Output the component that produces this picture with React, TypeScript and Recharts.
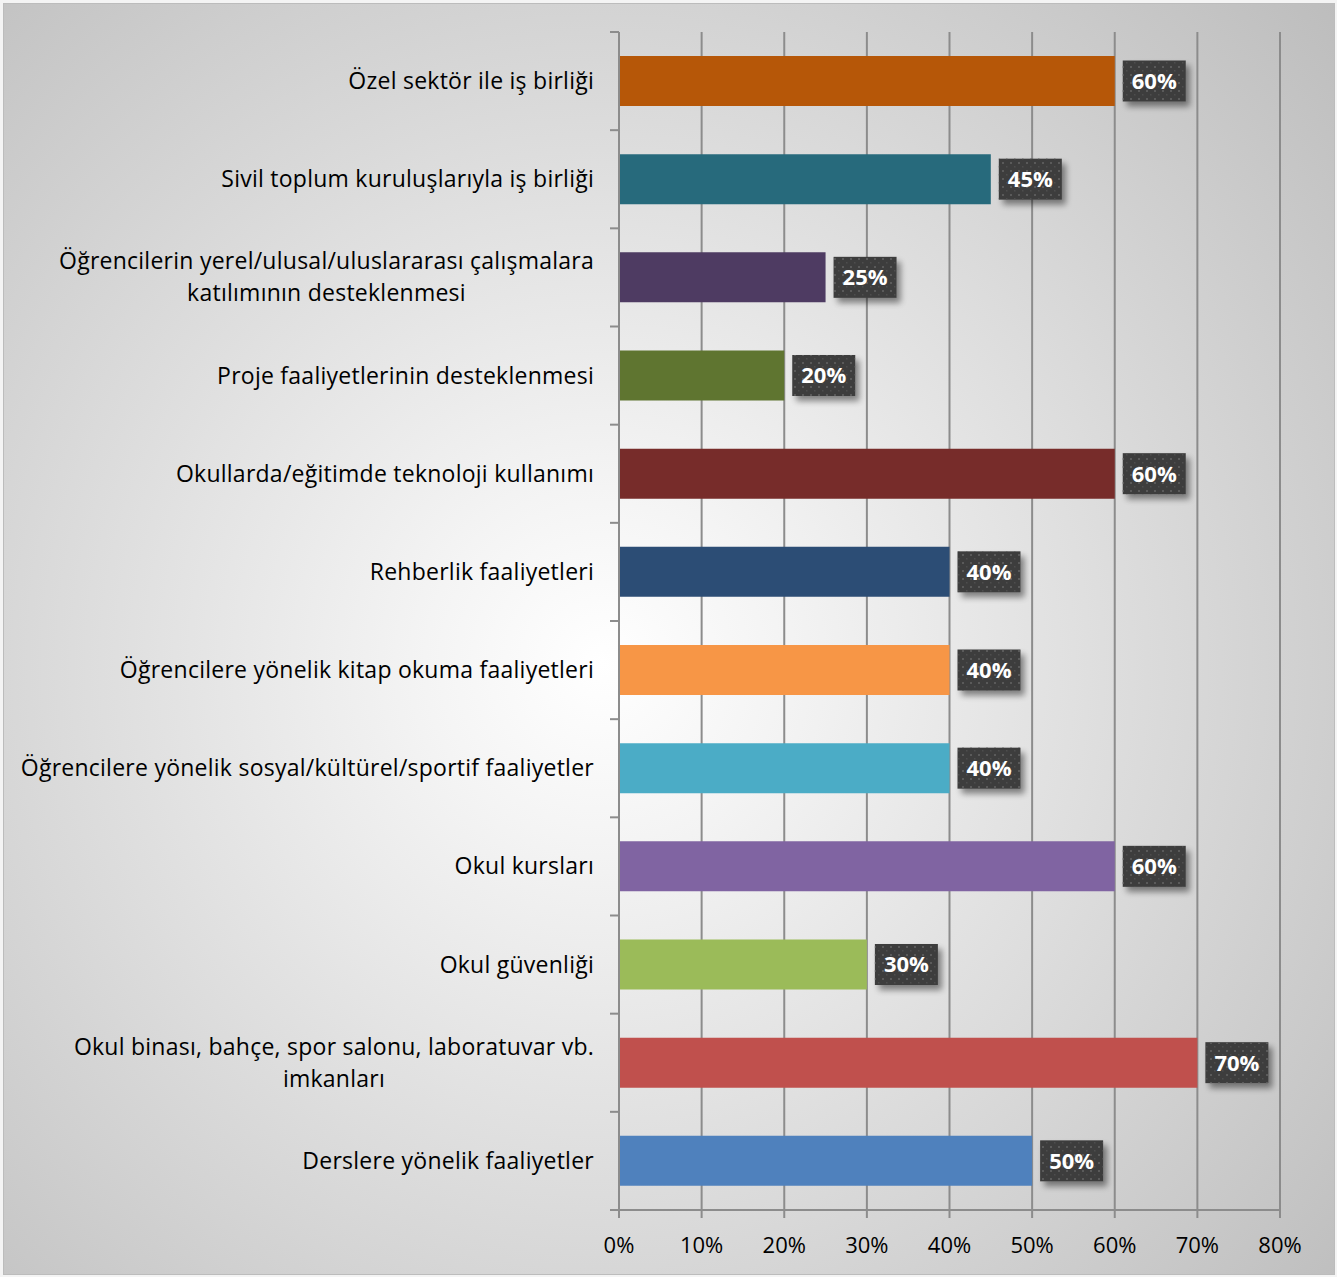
import React from "react";
import { BarChart, Bar, XAxis, YAxis, CartesianGrid, Cell, LabelList, Customized } from "recharts";

const categories = [
  "Özel sektör ile iş birliği",
  "Sivil toplum kuruluşlarıyla iş birliği",
  "Öğrencilerin yerel/ulusal/uluslararası çalışmalara katılımının desteklenmesi",
  "Proje faaliyetlerinin desteklenmesi",
  "Okullarda/eğitimde teknoloji kullanımı",
  "Rehberlik faaliyetleri",
  "Öğrencilere yönelik kitap okuma faaliyetleri",
  "Öğrencilere yönelik sosyal/kültürel/sportif faaliyetler",
  "Okul kursları",
  "Okul güvenliği",
  "Okul binası, bahçe, spor salonu, laboratuvar vb. imkanları",
  "Derslere yönelik faaliyetler",
];

const labelLines: Record<string, string[]> = {
  "Öğrencilerin yerel/ulusal/uluslararası çalışmalara katılımının desteklenmesi": [
    "Öğrencilerin yerel/ulusal/uluslararası çalışmalara",
    "katılımının desteklenmesi",
  ],
  "Okul binası, bahçe, spor salonu, laboratuvar vb. imkanları": [
    "Okul binası, bahçe, spor salonu, laboratuvar vb.",
    "imkanları",
  ],
};

const values = [60, 45, 25, 20, 60, 40, 40, 40, 60, 30, 70, 50];

const colors = [
  "#B65708", "#276A7C", "#4E3B62", "#5F7530", "#772C2A", "#2C4D75",
  "#F79646", "#4BACC6", "#8064A2", "#9BBB59", "#C0504D", "#4F81BD",
];

const xTicks = [0, 10, 20, 30, 40, 50, 60, 70, 80];

const data = categories.map((name, i) => ({ name, value: values[i] }));

const W = 1337;
const H = 1277;
const X_H = 40;
const M = { top: 32, right: 57, bottom: 67 - X_H, left: 0 };
const Y_W = 619;
const FONT = "'Open Sans', sans-serif";
const FS = 22;
const YFS = 23;
const LS = 0.25;
const BAND = (H - M.top - 67) / categories.length;

let ctx: CanvasRenderingContext2D | null = null;
function measure(t: string) {
  if (!ctx) {
    const c = document.createElement("canvas");
    ctx = c.getContext("2d");
  }
  if (!ctx) return t.length * 10.5;
  ctx.font = `${YFS}px 'Open Sans'`;
  return ctx.measureText(t).width + t.length * LS;
}

const YTick = (props: any) => {
  const { y, payload, index } = props;
  const lines = labelLines[payload.value] || [payload.value];
  const right = Y_W - 25;
  const tickX = Y_W;
  const els: any[] = [];
  els.push(
    <line key="t" x1={tickX - 9} x2={tickX} y1={y - BAND / 2} y2={y - BAND / 2} stroke="#8c8c8c" strokeWidth={2} />
  );
  if (index === categories.length - 1) {
    els.push(
      <line key="t2" x1={tickX - 9} x2={tickX} y1={y + BAND / 2} y2={y + BAND / 2} stroke="#8c8c8c" strokeWidth={2} />
    );
  }
  if (lines.length === 1) {
    els.push(
      <text key="l" x={right} y={y} dy="0.35em" textAnchor="end" fontFamily={FONT} fontSize={YFS} letterSpacing={LS} fill="#000">
        {lines[0]}
      </text>
    );
  } else {
    const w = Math.max(...lines.map(measure));
    const cx = right - w / 2;
    const lh = 32;
    lines.forEach((l, i) => {
      els.push(
        <text key={"l" + i} x={cx} y={y + (i - (lines.length - 1) / 2) * lh} dy="0.35em" textAnchor="middle" fontFamily={FONT} fontSize={YFS} letterSpacing={LS} fill="#000">
          {l}
        </text>
      );
    });
  }
  return <g>{els}</g>;
};

const ValueLabel = (props: any) => {
  const { x, y, width, height, value } = props;
  const bx = x + width + 8;
  const bw = 63;
  const bh = 41;
  const by = y + height / 2 - bh / 2;
  return (
    <g>
      <rect x={bx} y={by} width={bw} height={bh} fill="#3d3d3d" filter="url(#lblShadow)" />
      <rect x={bx} y={by} width={bw} height={bh} fill="url(#dots)" />
      <text x={bx + bw / 2} y={by + bh / 2} dy="0.36em" textAnchor="middle" fontFamily={FONT} fontWeight="bold" fontSize={22} fill="#ffffff">
        {`${value}%`}
      </text>
    </g>
  );
};

const Defs = () => (
  <defs>
    <pattern id="dots" x="0" y="0" width="8" height="8" patternUnits="userSpaceOnUse">
      <rect x="2" y="2" width="2" height="2" fill="#5a5a5a" />
      <rect x="6" y="6" width="1.5" height="1.5" fill="#4e4e4e" />
    </pattern>
    <filter id="lblShadow" x="-30%" y="-30%" width="170%" height="180%">
      <feGaussianBlur in="SourceAlpha" stdDeviation="3" />
      <feOffset dx="4" dy="5" result="b" />
      <feComponentTransfer>
        <feFuncA type="linear" slope="0.45" />
      </feComponentTransfer>
      <feMerge>
        <feMergeNode />
        <feMergeNode in="SourceGraphic" />
      </feMerge>
    </filter>
  </defs>
);

const PlotTint = (props: any) => {
  const { offset } = props;
  if (!offset) return null;
  return (
    <rect x={offset.left} y={offset.top} width={offset.width} height={offset.height} fill="rgba(0,0,0,0.055)" />
  );
};

export default function App() {
  return (
    <div
      style={{
        position: "absolute",
        left: 0,
        top: 0,
        width: W,
        height: H,
        background: "#f4f4f4",
      }}
    >
      <div
        style={{
          position: "absolute",
          left: 3,
          top: 3,
          width: W - 7,
          height: H - 7,
          border: "1px solid #bcbcbc",
          background: "radial-gradient(circle farthest-corner at 45% 52%, #ffffff 0%, #f4f4f4 18%, #bdbdbd 100%)",
        }}
      />
      <div style={{ position: "absolute", left: 0, top: 0 }}>
        <BarChart width={W} height={H} data={data} layout="vertical" margin={M} barSize={50}>
          <Customized component={Defs} />
          <Customized component={PlotTint} />
          <CartesianGrid horizontal={false} stroke="#8c8c8c" strokeWidth={2} />
          <XAxis
            type="number"
            domain={[0, 80]}
            ticks={xTicks}
            interval={0}
            height={X_H}
            tickFormatter={(v) => `${v}%`}
            axisLine={{ stroke: "#8c8c8c", strokeWidth: 2 }}
            tickLine={{ stroke: "#8c8c8c", strokeWidth: 2 }}
            tickSize={8}
            tickMargin={19}
            tick={{ fontFamily: FONT, fontSize: FS, fill: "#000" }}
          />
          <YAxis
            type="category"
            dataKey="name"
            width={Y_W}
            interval={0}
            axisLine={{ stroke: "#8c8c8c", strokeWidth: 2 }}
            tickLine={false}
            tick={<YTick />}
          />
          <Bar dataKey="value" isAnimationActive={false}>
            {data.map((d, i) => (
              <Cell key={i} fill={colors[i]} />
            ))}
            <LabelList dataKey="value" content={<ValueLabel />} />
          </Bar>
        </BarChart>
      </div>
    </div>
  );
}
